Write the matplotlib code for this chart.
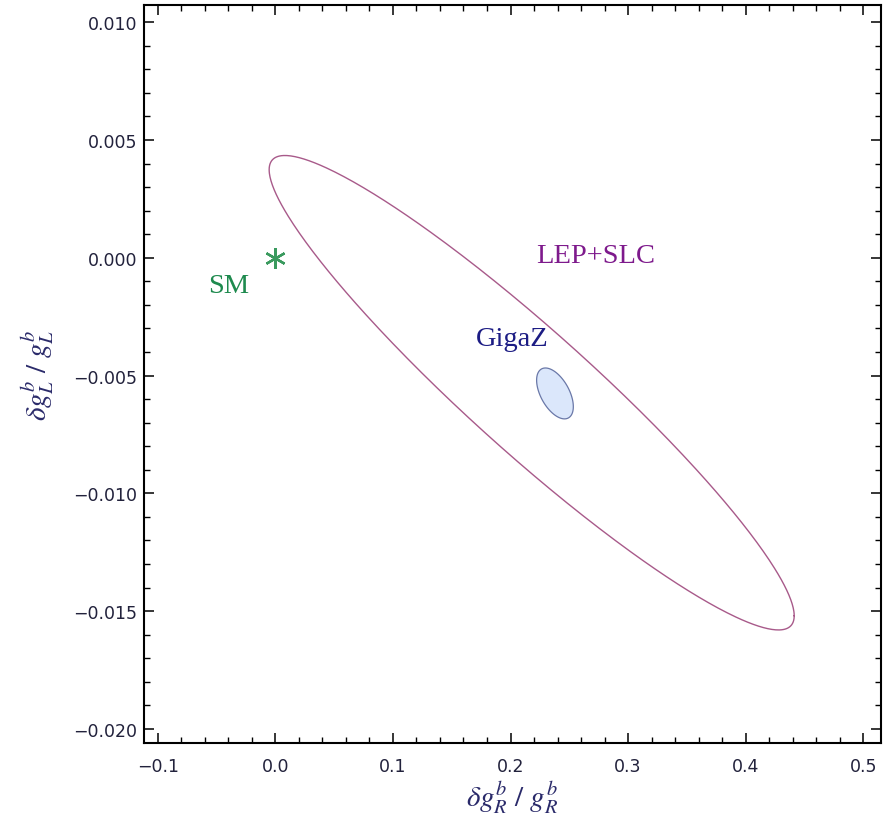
import numpy as np
import matplotlib.pyplot as plt
from matplotlib.ticker import MultipleLocator, FuncFormatter

plt.rcParams['mathtext.fontset'] = 'stix'

# contour parameters: centre, half extent in x and y, correlation
lep_center = (0.218, -0.00573)
lep_halfwidth = (0.2232, 0.01007)
lep_rho = -0.94

gigaz_center = (0.2378, -0.00576)
gigaz_halfwidth = (0.0156, 0.00108)
gigaz_rho = -0.52

sm_point = (0.0, 0.0)

x_ticks = [-0.1, 0.0, 0.1, 0.2, 0.3, 0.4, 0.5]
y_ticks = [-0.020, -0.015, -0.010, -0.005, 0.000, 0.005, 0.010]


def contour(center, halfwidth, rho, n=500):
    t = np.linspace(0, 2 * np.pi, n)
    x = center[0] + halfwidth[0] * np.cos(t)
    y = center[1] + halfwidth[1] * (rho * np.cos(t) + np.sqrt(1 - rho ** 2) * np.sin(t))
    return x, y


def fmt(decimals):
    def f(v, pos):
        s = f'{abs(v):.{decimals}f}'
        return ('\u2212' + s) if v < -1e-12 else s
    return FuncFormatter(f)


fig = plt.figure(figsize=(8.89, 8.29), dpi=100)
ax = fig.add_axes([0.162, 0.1025, 0.829, 0.8903])

# LEP+SLC ellipse
lx, ly = contour(lep_center, lep_halfwidth, lep_rho)
ax.plot(lx, ly, color='#a85a8a', lw=1.0)

# GigaZ ellipse
gx, gy = contour(gigaz_center, gigaz_halfwidth, gigaz_rho)
ax.fill(gx, gy, facecolor='#dbe7fb', edgecolor='#6a78a8', lw=0.9)

# Standard Model point
ax.plot(sm_point[0], sm_point[1], marker=(6, 2, 0), ms=15, mew=1.7,
        color='#3a9a5e', ls='none')

serif = 'Liberation Serif'
ax.text(-0.0399, -0.00119, 'SM', color='#1e8a4e', fontsize=20.5,
        family=serif, ha='center', va='center')
ax.text(0.272, 0.00008, 'LEP+SLC', color='#7e1a8c', fontsize=20.5,
        family=serif, ha='center', va='center')
ax.text(0.2012, -0.00344, 'GigaZ', color='#1c1c84', fontsize=20.5,
        family=serif, ha='center', va='center')

ax.set_xlim(-0.1116, 0.515)
ax.set_ylim(-0.0206, 0.01073)

ax.set_xticks(x_ticks)
ax.set_yticks(y_ticks)
ax.xaxis.set_minor_locator(MultipleLocator(0.02))
ax.yaxis.set_minor_locator(MultipleLocator(0.001))
ax.xaxis.set_major_formatter(fmt(1))
ax.yaxis.set_major_formatter(fmt(3))

ax.tick_params(which='both', direction='in', top=True, right=True,
               color='black', labelsize=12.5, labelcolor='#22223c')
ax.tick_params(which='major', length=7, width=1.1)
ax.tick_params(which='minor', length=4.5, width=1.0)
ax.tick_params(axis='x', which='major', pad=10)
ax.tick_params(axis='y', which='major', pad=5)
for s in ax.spines.values():
    s.set_linewidth(1.5)

ax.set_xlabel(r'$\delta g_R^b\ /\ g_R^b$', fontsize=21, color='#2a2a6a',
              labelpad=2)
ax.set_ylabel(r'$\delta g_L^b\ /\ g_L^b$', fontsize=21, color='#2a2a6a',
              labelpad=12)

fig.savefig('out.png', dpi=100)
